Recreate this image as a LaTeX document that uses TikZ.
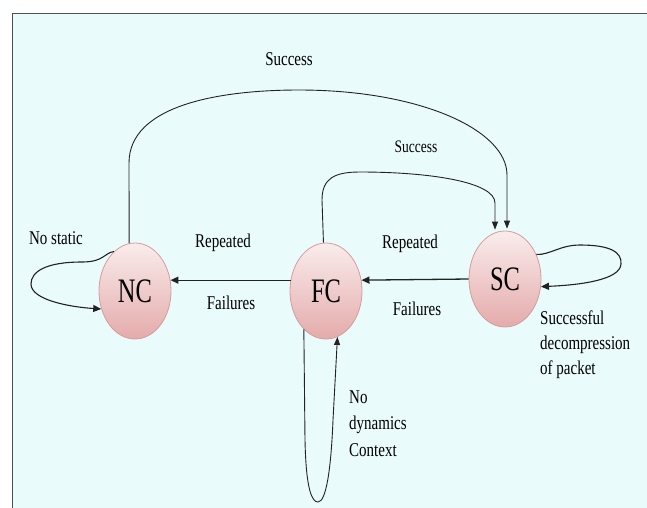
\documentclass[tikz,border=0pt]{standalone}
\usepackage{fontspec}
\setmainfont{Liberation Serif}
\usetikzlibrary{arrows.meta,shapes.geometric,calc}
\definecolor{bgc}{HTML}{EAFBFC}
\definecolor{framec}{HTML}{505050}
\definecolor{ellbot}{HTML}{E4ABAB}
\definecolor{elltop}{HTML}{FAECEC}
\definecolor{ellline}{HTML}{D59C9C}
\definecolor{linec}{HTML}{222222}
\newcommand{\tallt}[1]{\scalebox{1}[1.3]{#1}}
\newcommand{\talln}[1]{\scalebox{1}[1.4]{#1}}
\begin{document}
\begin{tikzpicture}[x=1pt,y=-1pt,
  state/.style={ellipse,draw=ellline,line width=0.8pt,top color=elltop,bottom color=ellbot,
    minimum width=72pt,minimum height=96pt,inner sep=0pt,font=\fontsize{24.5}{26}\selectfont},
  lbl/.style={font=\fontsize{15}{17}\selectfont,inner sep=0pt},
  ml/.style={font=\fontsize{15}{17}\selectfont,inner sep=0pt,anchor=west},
  arr/.style={draw=linec,line width=1.3pt,-{Triangle[length=8pt,width=7pt]}},
  arc/.style={draw=linec,line width=0.9pt,-{Triangle[length=8pt,width=6pt]}}]
\useasboundingbox (0,0) rectangle (647,507);
\fill[white] (0,0) rectangle (647,507);
\fill[bgc] (12,13) rectangle (650,510);
\draw[framec,line width=1pt] (650,13) -- (12,13) -- (12,510);
% nodes
\node[state] (NC) at (135,291) {\talln{NC}};
\node[state] (FC) at (326,291) {\talln{FC}};
\node[state] (SC) at (505,279) {\talln{SC}};
% horizontal arrows
\draw[arr] (FC.163) -- (NC.17);
\draw[arr] (SC.west) -- (FC.17);
% big arc NC -> SC
\draw[arc] (NC.97) -- (129,163) .. controls (129,105) and (220,90) .. (299,90)
  .. controls (420,90) and (507,130) .. (507,175) -- ($(SC.north)+(2,-2)$);
% arc FC -> SC
\draw[arc] (FC.93) -- (322,200) .. controls (322,178) and (335,172) .. (360,172)
  .. controls (430,172) and (495,182) .. (495,203) -- ($(SC.north)+(-10,-1)$);
% NC self loop
\draw[arr,line width=1.1pt] (NC.118) .. controls (104,253) and (104,262) .. (82,262)
  .. controls (45,262) and (31,272) .. (31,284)
  .. controls (31,300) and (70,307) .. (NC.208);
% SC self loop
\draw[arr,line width=1.1pt] (SC.38) .. controls (550,255) and (560,245) .. (580,245)
  .. controls (610,245) and (622,252) .. (621,264)
  .. controls (620,280) and (580,285) .. (SC.348);
% FC self loop
\draw[arc] (FC.240) -- (305,440) .. controls (306,490) and (312,502) .. (318,502)
  .. controls (326,502) and (331,470) .. (333,420) -- (FC.284);
% labels
\node[lbl] (s1) at (289,59) {\tallt{Success}};
\node[lbl,font=\fontsize{13.5}{15}\selectfont] (s2) at (416,147) {\tallt{Success}};
\node[lbl] (r1) at (223,243) {\tallt{Repeated}};
\node[lbl] (f1) at (231,303) {\tallt{Failures}};
\node[lbl] (r2) at (410,244) {\tallt{Repeated}};
\node[lbl] (f2) at (417,309) {\tallt{Failures}};
\node[lbl] (ns) at (56,238) {\tallt{No static}};
\node[ml] (d1) at (540,318) {\tallt{Successful}};
\node[ml] (d2) at (540,345) {\tallt{decompression}};
\node[ml] (d3) at (540,370) {\tallt{of packet}};
\node[ml] (n1) at (349,397) {\tallt{No}};
\node[ml] (n2) at (349,425) {\tallt{dynamics}};
\node[ml] (n3) at (349,450) {\tallt{Context}};
\end{tikzpicture}
\end{document}
